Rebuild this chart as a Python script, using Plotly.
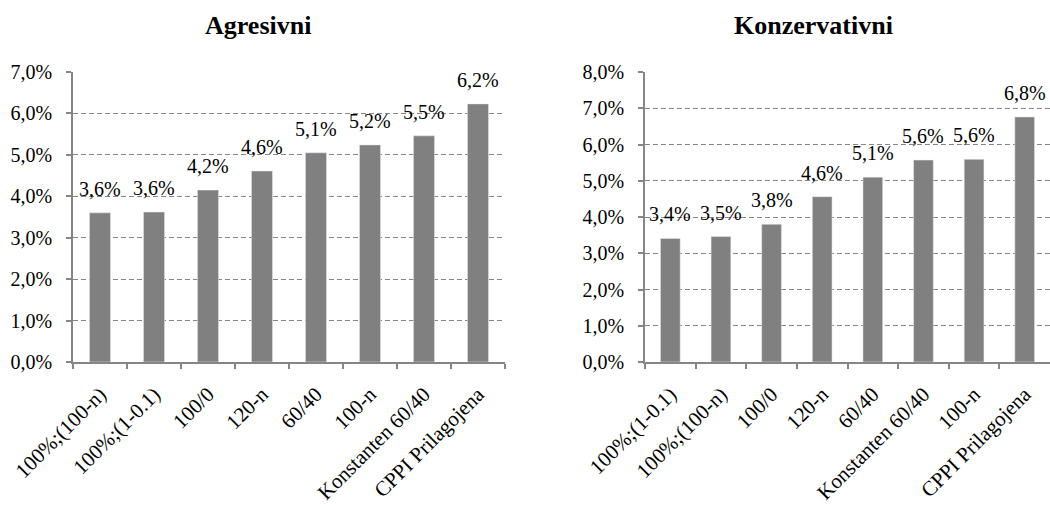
import plotly.graph_objects as go

# Data
cat_agr = ["100%;(100-n)", "100%;(1-0.1)", "100/0", "120-n", "60/40", "100-n",
           "Konstanten 60/40", "CPPI Prilagojena"]
val_agr = [0.0360, 0.0362, 0.0415, 0.0461, 0.0505, 0.0524, 0.0546, 0.0623]

cat_kon = ["100%;(1-0.1)", "100%;(100-n)", "100/0", "120-n", "60/40",
           "Konstanten 60/40", "100-n", "CPPI Prilagojena"]
val_kon = [0.0341, 0.0346, 0.0380, 0.0456, 0.0510, 0.0557, 0.0559, 0.0676]

titles = ["Agresivni", "Konzervativni"]

FONT = "Liberation Serif"
GREY = "#808080"
AX = "#868686"

fig = go.Figure()
fig.add_trace(go.Bar(x=cat_agr, y=val_agr, marker_color=GREY, width=0.39,
                     xaxis="x", yaxis="y", showlegend=False))
fig.add_trace(go.Bar(x=cat_kon, y=val_kon, marker_color=GREY, width=0.39,
                     xaxis="x2", yaxis="y2", showlegend=False))

annotations = []
for cats, vals, xr, yr in [(cat_agr, val_agr, "x", "y"), (cat_kon, val_kon, "x2", "y2")]:
    for c, v in zip(cats, vals):
        annotations.append(dict(x=c, y=v, xref=xr, yref=yr, text=f"{v*100:.1f}%".replace(".", ","),
                                showarrow=False, xanchor="center", yanchor="bottom", yshift=11,
                                font=dict(family=FONT, size=20, color="black")))

for tx, t in zip([0.2457, 0.775], titles):
    annotations.append(dict(x=tx, y=1 - 25 / 506, xref="paper", yref="paper", text="<b>" + t + "</b>",
                            xanchor="center", yanchor="middle",
                            showarrow=False, font=dict(family=FONT, size=26, color="black")))

xcommon = dict(type="category", showline=True, linecolor=AX, linewidth=1.5,
               ticks="outside", ticklen=5, tickcolor=AX, tickwidth=1.5, tickson="boundaries",
               tickangle=-45, tickfont=dict(family=FONT, size=21, color="black"),
               showgrid=False, zeroline=False, automargin=False, ticklabelstandoff=10)
ycommon = dict(showline=True, linecolor=AX, linewidth=1.5, ticks="outside", ticklen=5,
               tickcolor=AX, tickwidth=1.5, tickformat=".1%", dtick=0.01,
               showgrid=True, gridcolor=AX, gridwidth=1, griddash="5px,3px",
               zeroline=False, tickfont=dict(family=FONT, size=20, color="black"),
               ticklabelstandoff=10, automargin=False)

yb = 144 / 506
yt = 434 / 506

fig.update_layout(
    width=1050, height=506,
    margin=dict(l=0, r=0, t=0, b=0),
    paper_bgcolor="white", plot_bgcolor="white",
    separators=",.",
    bargap=0.6,
    xaxis=dict(domain=[73 / 1050, 505 / 1050], anchor="y", **xcommon),
    yaxis=dict(domain=[yb, yt], anchor="x", range=[0, 0.07], **ycommon),
    xaxis2=dict(domain=[645 / 1050, 1.0], anchor="y2", **xcommon),
    yaxis2=dict(domain=[yb, yt], anchor="x2", range=[0, 0.08], **ycommon),
    annotations=annotations,
    font=dict(family=FONT),
)

fig.write_html("out.html")
